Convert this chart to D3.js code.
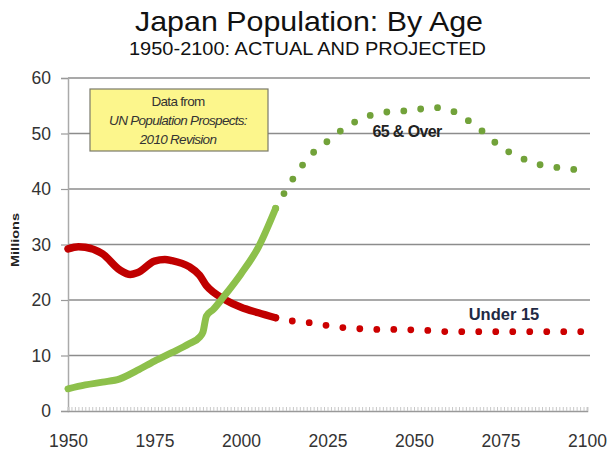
<!DOCTYPE html>
<html>
<head>
<meta charset="utf-8">
<script src="https://cdn.jsdelivr.net/npm/d3@7"></script>
<style>
  body { margin: 0; background: #fff; }
  text { font-family: "Liberation Sans", Arial, sans-serif; }
</style>
</head>
<body>
<div class="draw-chart"></div>
<script>
// actual data (millions)
const actualYearsUnder15 = [1950, 1953, 1955, 1960, 1965, 1968, 1970, 1975, 1978, 1980, 1985, 1988, 1990, 1992, 1995, 2000, 2005, 2010];
const actualUnder15 = [29.2, 29.6, 29.5, 28.3, 25.4, 24.6, 24.9, 27.0, 27.3, 27.1, 26.0, 24.5, 22.6, 21.4, 20.2, 18.7, 17.7, 16.8];
const actualYears65 = [1950, 1955, 1960, 1965, 1970, 1975, 1980, 1985, 1988, 1989, 1990, 1992, 1995, 2000, 2005, 2010];
const actual65 = [4.0, 4.7, 5.2, 5.8, 7.3, 9.0, 10.5, 12.1, 13.3, 14.2, 17.1, 18.3, 20.6, 24.7, 29.5, 36.5];

// projected data (millions), 5-year steps
const projYears = [2010, 2015, 2020, 2025, 2030, 2035, 2040, 2045, 2050, 2055, 2060, 2065, 2070, 2075, 2080, 2085, 2090, 2095, 2100];
const projUnder15 = [16.8, 16.2, 15.9, 15.4, 15.0, 14.8, 14.7, 14.7, 14.6, 14.5, 14.3, 14.3, 14.3, 14.3, 14.3, 14.3, 14.3, 14.3, 14.3];
const proj65 = [36.5, 41.8, 46.0, 48.6, 51.0, 52.7, 53.7, 54.0, 54.2, 54.7, 54.3, 52.6, 50.3, 47.6, 45.9, 44.6, 44.0, 43.6, 43.3];

const yTicks = [0, 10, 20, 30, 40, 50, 60];
const xTicks = [1950, 1975, 2000, 2025, 2050, 2075, 2100];

const W = 607, H = 454;
const margin = { top: 78, right: 17, bottom: 43, left: 68 };
const width = W - margin.left - margin.right;
const height = H - margin.top - margin.bottom;

const svg = d3.select(".draw-chart").append("svg")
  .attr("width", W).attr("height", H);

// title
svg.append("text").attr("x", 309).attr("y", 31).attr("text-anchor", "middle")
  .attr("font-size", 28.5).attr("fill", "#111")
  .attr("textLength", 348).attr("lengthAdjust", "spacingAndGlyphs")
  .text("Japan Population:  By Age");
svg.append("text").attr("x", 307.5).attr("y", 55).attr("text-anchor", "middle")
  .attr("font-size", 19).attr("fill", "#111")
  .attr("textLength", 357).attr("lengthAdjust", "spacingAndGlyphs")
  .text("1950-2100: ACTUAL AND PROJECTED");

const g = svg.append("g").attr("transform", "translate(" + margin.left + "," + margin.top + ")");

const x = d3.scaleLinear().domain([1950, 2100]).range([0, width - 3]);
const y = d3.scaleLinear().domain([0, 60]).range([height, 0]);

// gridlines
g.append("g").selectAll("line").data(yTicks.filter(d => d > 0)).join("line")
  .attr("x1", 0).attr("x2", width)
  .attr("y1", d => y(d)).attr("y2", d => y(d))
  .attr("stroke", "#8c8c8c").attr("stroke-width", 1.5);

// y axis
const yAxis = g.append("g").call(d3.axisLeft(y).tickValues(yTicks).tickSize(7).tickPadding(10));
yAxis.select(".domain").attr("stroke", "#aaa").attr("stroke-width", 1.5);
yAxis.selectAll(".tick line").attr("stroke", "#999").attr("stroke-width", 1.2);
yAxis.selectAll(".tick text").attr("font-size", 17.5).attr("fill", "#333")
  .attr("font-family", "Liberation Sans, Arial, sans-serif");

// x axis with yearly minor ticks
const xMinor = g.append("g").attr("transform", "translate(0," + height + ")")
  .call(d3.axisBottom(x).ticks(150).tickSize(-4).tickFormat(""));
xMinor.select(".domain").attr("stroke", "#999").attr("stroke-width", 1.5);
xMinor.selectAll(".tick line").attr("stroke", "#c8c8c8").attr("stroke-width", 1);

const xAxis = g.append("g").attr("transform", "translate(0," + height + ")")
  .call(d3.axisBottom(x).tickValues(xTicks).tickSize(0).tickPadding(24).tickFormat(d3.format("d")));
xAxis.select(".domain").remove();
xAxis.selectAll(".tick text").attr("font-size", 17.5).attr("fill", "#333")
  .attr("font-family", "Liberation Sans, Arial, sans-serif");

// y axis title
svg.append("text").attr("transform", "translate(18.5,240) rotate(-90)")
  .attr("text-anchor", "middle").attr("font-size", 11.5).attr("font-weight", "bold")
  .attr("fill", "#222").attr("textLength", 54).attr("lengthAdjust", "spacingAndGlyphs")
  .text("Millions");

const line = d3.line().x(d => x(d[0])).y(d => y(d[1]));

// projected (dotted)
g.append("path").datum(d3.zip(projYears, projUnder15))
  .attr("fill", "none").attr("stroke", "#cc0000").attr("stroke-width", 6.8)
  .attr("stroke-linecap", "round").attr("stroke-dasharray", "0 17")
  .attr("d", line.curve(d3.curveMonotoneX));
g.append("path").datum(d3.zip(projYears, proj65))
  .attr("fill", "none").attr("stroke", "#72a23a").attr("stroke-width", 6.8)
  .attr("stroke-linecap", "round").attr("stroke-dasharray", "0 17")
  .attr("d", line.curve(d3.curveMonotoneX));

// actual (solid)
g.append("path").datum(d3.zip(actualYearsUnder15, actualUnder15))
  .attr("fill", "none").attr("stroke", "#c00000").attr("stroke-width", 7.5)
  .attr("stroke-linecap", "round").attr("stroke-linejoin", "round")
  .attr("d", line.curve(d3.curveMonotoneX));
g.append("path").datum(d3.zip(actualYears65, actual65))
  .attr("fill", "none").attr("stroke", "#8dc04b").attr("stroke-width", 7)
  .attr("stroke-linecap", "round").attr("stroke-linejoin", "round")
  .attr("d", line.curve(d3.curveMonotoneX));

// series labels
g.append("text").attr("x", x(2048)).attr("y", y(49.4)).attr("text-anchor", "middle")
  .attr("font-size", 16).attr("font-weight", "bold").attr("fill", "#222")
  .attr("font-family", "Open Sans, Liberation Sans, sans-serif").attr("letter-spacing", -0.6)
  .text("65 & Over");
g.append("text").attr("x", x(2076)).attr("y", y(16.4)).attr("text-anchor", "middle")
  .attr("font-size", 16.5).attr("font-weight", "bold").attr("fill", "#1f2a44")
  .text("Under 15");

// source note box
const note = svg.append("g");
note.append("rect").attr("x", 90).attr("y", 89).attr("width", 178).attr("height", 62)
  .attr("fill", "#fcf68c").attr("stroke", "#7a7a6a").attr("stroke-width", 1.2);
const noteLines = [["Data from", "normal"], ["UN Population Prospects:", "italic"], ["2010 Revision", "italic"]];
note.selectAll("text.note").data(noteLines).join("text")
  .attr("class", "note").attr("x", 178).attr("y", (d, i) => 106 + i * 19)
  .attr("text-anchor", "middle").attr("font-size", 13.5).attr("fill", "#333")
  .attr("font-style", d => d[1]).attr("letter-spacing", -0.7)
  .text(d => d[0]);
</script>
</body>
</html>
